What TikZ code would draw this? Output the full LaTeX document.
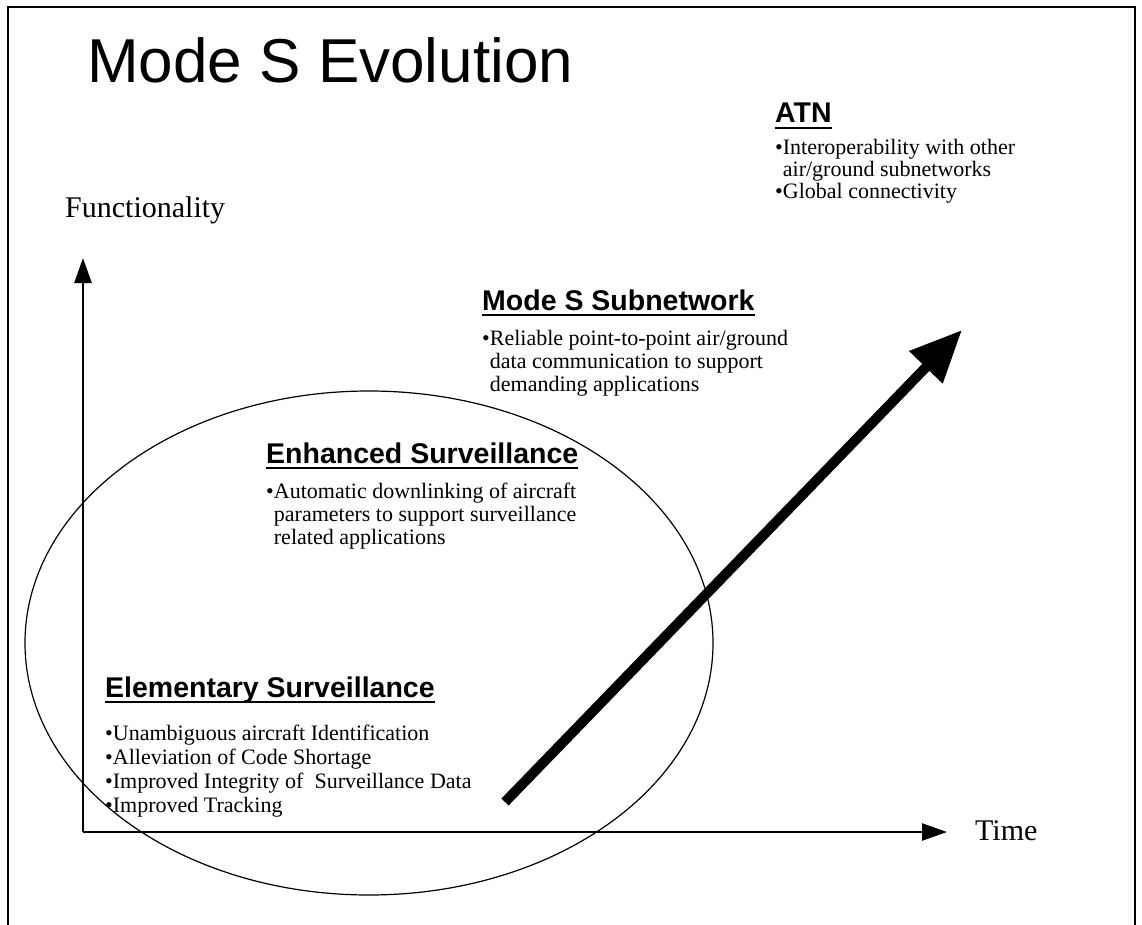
\documentclass[tikz,border=0pt]{standalone}
\usepackage{fontspec}
\setmainfont{Liberation Serif}
\newfontfamily\arialf{Liberation Sans}
\usetikzlibrary{arrows.meta,calc,shapes.geometric}
\begin{document}
\begin{tikzpicture}[x=1pt,y=-1pt,
  txt/.style={anchor=base west,inner sep=0pt,font=\fontsize{22}{24}\selectfont},
  head/.style={anchor=base west,inner sep=0pt,font=\arialf\bfseries\fontsize{28.5}{30}\selectfont},
  ul/.style={line width=2.6pt},
  axisarrow/.style={line width=2.5pt,-{Triangle[length=25pt,width=17pt]}},
  bigarrow/.style={line width=10pt,-{Triangle[length=52pt,width=44pt]}},
  frame/.style={line width=2pt}]
\useasboundingbox (0,0) rectangle (1142,925);
% frame
\coordinate (f1) at (8,925);
\coordinate (f2) at (8,7);
\coordinate (f3) at (1135,7);
\coordinate (f4) at (1135,925);
\draw[frame] (f1) -- (f2) -- (f3) -- (f4);
% title
\node[anchor=base west,inner sep=0pt,font=\arialf\fontsize{62}{66}\selectfont] (title) at (87,83) {Mode S Evolution};
% axes
\coordinate (o) at (83,832);
\coordinate (ytip) at (83,258);
\coordinate (xtip) at (947,832);
\draw[axisarrow] (o) -- (ytip);
\draw[axisarrow] (o) -- (xtip);
\node[anchor=base west,inner sep=0pt,font=\fontsize{30}{32}\selectfont] (func) at (65,218) {Functionality};
\node[anchor=base west,inner sep=0pt,font=\fontsize{30}{32}\selectfont] (time) at (975,840) {Time};
% ellipse
\node[draw,ellipse,line width=1.2pt,minimum width=688pt,minimum height=504pt,inner sep=0pt] (ell) at (369,643) {};
% big arrow
\coordinate (bs) at (505,802);
\coordinate (bt) at (962,330);
\draw[bigarrow] (bs) -- (bt);
% ATN
\node[head] (atn) at (775,123) {ATN};
\draw[ul] ($(atn.base west)+(0,5)$) -- ($(atn.base east)+(0,5)$);
\node[txt] (a1) at (775,155) {•Interoperability with other};
\node[txt] (a2) at (775,177) {\hphantom{•}air/ground subnetworks};
\node[txt] (a3) at (775,199) {•Global connectivity};
% Mode S Subnetwork
\node[head] (msn) at (482,310) {Mode S Subnetwork};
\draw[ul] ($(msn.base west)+(0,5)$) -- ($(msn.base east)+(0,5)$);
\node[txt] (m1) at (482,345) {•Reliable point-to-point air/ground};
\node[txt] (m2) at (482,368) {\hphantom{•}data communication to support};
\node[txt] (m3) at (482,391) {\hphantom{•}demanding applications};
% Enhanced Surveillance
\node[head] (enh) at (266,463) {Enhanced Surveillance};
\draw[ul] ($(enh.base west)+(0,5)$) -- ($(enh.base east)+(0,5)$);
\node[txt] (e1) at (266,498) {•Automatic downlinking of aircraft};
\node[txt] (e2) at (266,521) {\hphantom{•}parameters to support surveillance};
\node[txt] (e3) at (266,544) {\hphantom{•}related applications};
% Elementary Surveillance
\node[head] (ele) at (105,697) {Elementary Surveillance};
\draw[ul] ($(ele.base west)+(0,5)$) -- ($(ele.base east)+(0,5)$);
\node[txt] (l1) at (105,740) {•Unambiguous aircraft Identification};
\node[txt] (l2) at (105,764) {•Alleviation of Code Shortage};
\node[txt] (l3) at (105,788) {•Improved Integrity of\ \ Surveillance Data};
\node[txt] (l4) at (105,812) {•Improved Tracking};
\end{tikzpicture}
\end{document}
